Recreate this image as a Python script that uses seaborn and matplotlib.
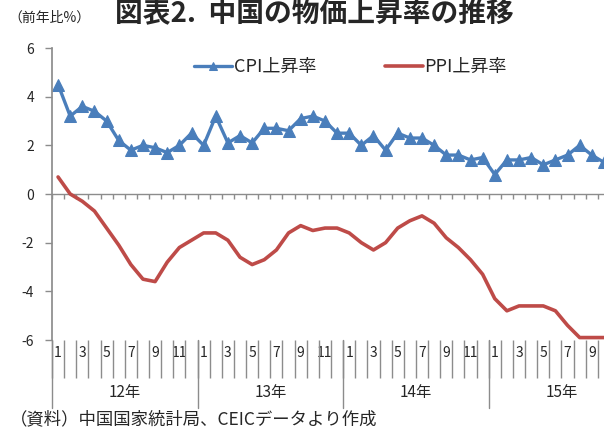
import numpy as np
import pandas as pd
import matplotlib.pyplot as plt
import matplotlib.transforms as mtransforms
import seaborn as sns

# monthly data, Jan 2012 - Oct 2015 (前年比%)
years = ["12年", "13年", "14年", "15年"]
months_per_year = [12, 12, 12, 10]
cpi = [4.5, 3.2, 3.6, 3.4, 3.0, 2.2, 1.8, 2.0, 1.9, 1.7, 2.0, 2.5,
       2.0, 3.2, 2.1, 2.4, 2.1, 2.7, 2.7, 2.6, 3.1, 3.2, 3.0, 2.5,
       2.5, 2.0, 2.4, 1.8, 2.5, 2.3, 2.3, 2.0, 1.6, 1.6, 1.4, 1.5,
       0.8, 1.4, 1.4, 1.5, 1.2, 1.4, 1.6, 2.0, 1.6, 1.3]
ppi = [0.7, 0.0, -0.3, -0.7, -1.4, -2.1, -2.9, -3.5, -3.6, -2.8, -2.2, -1.9,
       -1.6, -1.6, -1.9, -2.6, -2.9, -2.7, -2.3, -1.6, -1.3, -1.5, -1.4, -1.4,
       -1.6, -2.0, -2.3, -2.0, -1.4, -1.1, -0.9, -1.2, -1.8, -2.2, -2.7, -3.3,
       -4.3, -4.8, -4.6, -4.6, -4.6, -4.8, -5.4, -5.9, -5.9, -5.9]

sns.set_theme(style="white")
plt.rcParams['font.family'] = ['Noto Sans CJK JP', 'DejaVu Sans']
plt.rcParams['axes.unicode_minus'] = False

month_no = [m + 1 for n in months_per_year for m in range(n)]
df = pd.DataFrame({"t": np.arange(len(cpi)), "month": month_no,
                   "CPI上昇率": cpi, "PPI上昇率": ppi})

fig = plt.figure(figsize=(6.04, 4.30), dpi=100)
W, H = 604, 430
ax = fig.add_axes([52 / W, (H - 340) / H, (610 - 52) / W, 292 / H])

blue = "#4A7EBB"
red = "#BE4B48"
gray = "#8C8C8C"

sns.lineplot(data=df, x="t", y="CPI上昇率", ax=ax, color=blue, lw=2.4,
             marker="^", markersize=8, markeredgecolor=blue, label="CPI上昇率")
sns.lineplot(data=df, x="t", y="PPI上昇率", ax=ax, color=red, lw=2.6,
             label="PPI上昇率")

ax.set_xlim(-0.5, 45.5)
ax.set_ylim(-6, 6)
ax.set_yticks(range(-6, 7, 2))
ax.set_xlabel("")
ax.set_ylabel("")
for s in ["top", "right", "bottom"]:
    ax.spines[s].set_visible(False)
ax.spines["left"].set_color(gray)
ax.tick_params(axis="y", direction="out", length=5, color=gray, width=1,
               labelsize=10, pad=8, left=True)

# zero axis with month ticks
ax.axhline(0, color=gray, lw=1, zorder=1)
bounds = np.arange(-0.5, len(cpi) + 0.5, 1)
ax.vlines(bounds, -0.2, 0, color=gray, lw=1, zorder=1)

# bottom category labels: months
odd_pos = df.index[df["month"] % 2 == 1]
ax.set_xticks(odd_pos)
ax.set_xticklabels([str(m) for m in df.loc[odd_pos, "month"]], fontsize=10)
ax.tick_params(axis="x", length=0, pad=4, labelsize=10, bottom=True)
ax.set_xticks(bounds, minor=True)
ax.tick_params(axis="x", which="minor", length=27, color=gray, width=1,
               direction="out", bottom=True)

# year separators and labels
trans = mtransforms.blended_transform_factory(ax.transData, fig.transFigure)
start = 0
for yl, n in zip(years, months_per_year):
    ax.plot([start - 0.5, start - 0.5], [(H - 340) / H, (H - 408) / H],
            color=gray, lw=1, transform=trans, clip_on=False)
    ax.text(start + 5.5, (H - 393) / H, yl, transform=trans, ha="center",
            va="center", fontsize=11)
    start += n

ax.legend(loc="center", bbox_to_anchor=(0.535, 0.935), ncol=2, frameon=False,
          fontsize=13, handlelength=2.1, columnspacing=3.8, handletextpad=0.1,
          markerscale=0.7)

fig.text(314 / W, (H - 13) / H, "図表2.  中国の物価上昇率の推移", ha="center",
         va="center", fontsize=20, fontweight="bold")
fig.text(8 / W, (H - 18) / H, "（前年比%）", ha="left", va="center", fontsize=10)
fig.text(10 / W, (H - 419) / H, "（資料）中国国家統計局、CEICデータより作成",
         ha="left", va="center", fontsize=12.5)

fig.savefig("out.png", dpi=100)
